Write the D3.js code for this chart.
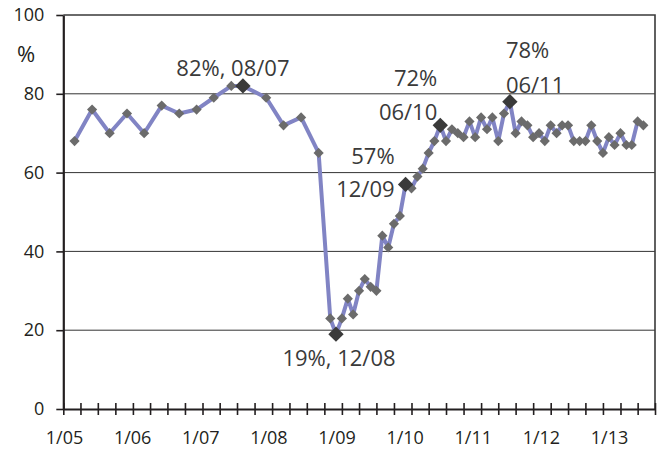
<!DOCTYPE html>
<html>
<head>
<meta charset="utf-8">
<script src="https://cdn.jsdelivr.net/npm/d3@7"></script>
<style>
  html, body { margin: 0; padding: 0; background: #fff; }
  svg { display: block; }
  text { font-family: "Open Sans", "Noto Sans", sans-serif; }
</style>
</head>
<body>
<svg id="chart" width="660" height="452"></svg>
<script>
// ---- data ----
const dates = [
  "2005-03","2005-06","2005-09","2005-12",
  "2006-03","2006-06","2006-09","2006-12",
  "2007-03","2007-06","2007-08","2007-12",
  "2008-03","2008-06","2008-09","2008-11","2008-12",
  "2009-01","2009-02","2009-03","2009-04","2009-05","2009-06","2009-07","2009-08","2009-09","2009-10","2009-11","2009-12",
  "2010-01","2010-02","2010-03","2010-04","2010-05","2010-06","2010-07","2010-08","2010-09","2010-10","2010-11","2010-12",
  "2011-01","2011-02","2011-03","2011-04","2011-05","2011-06","2011-07","2011-08","2011-09","2011-10","2011-11","2011-12",
  "2012-01","2012-02","2012-03","2012-04","2012-05","2012-06","2012-07","2012-08","2012-09","2012-10","2012-11","2012-12",
  "2013-01","2013-02","2013-03","2013-04","2013-05"
];
const values = [
  68, 76, 70, 75,
  70, 77, 75, 76,
  79, 82, 82, 79,
  72, 74, 65, 23, 19,
  23, 28, 24, 30, 33, 31, 30, 44, 41, 47, 49, 57,
  56, 59, 61, 65, 68, 72, 68, 71, 70, 69, 73, 69,
  74, 71, 74, 68, 75, 78, 70, 73, 72, 69, 70, 68,
  72, 70, 72, 72, 68, 68, 68, 72, 68, 65, 69, 67,
  70, 67, 67, 73, 72
];
const xTickLabels = ["1/05","1/06","1/07","1/08","1/09","1/10","1/11","1/12","1/13"];
const yTicks = [0, 20, 40, 60, 80, 100];
const highlightDates = ["2007-08","2008-12","2009-12","2010-06","2011-06"];
const highlightTexts = [
  ["82%, 08/07"],
  ["19%, 12/08"],
  ["57%", "12/09"],
  ["72%", "06/10"],
  ["78%", "06/11"]
];
const yUnit = "%";

// ---- layout ----
const svg = d3.select("#chart");
const parse = d3.timeParse("%Y-%m");
const data = dates.map((d, i) => ({ date: parse(d), key: d, value: values[i] }));

const x = d3.scaleTime()
  .domain([new Date(2005, 0, 1), new Date(2013, 6, 1)])
  .range([63.3, 655]);
const y = d3.scaleLinear().domain([0, 100]).range([409, 15]);
const xLab = d3.scalePoint().domain(xTickLabels).range([64, 609]);

const ink = "#231f20";

// gridlines
svg.append("g").selectAll("line")
  .data(yTicks.filter(v => v > 0 && v < 100))
  .join("line")
  .attr("x1", x.range()[0]).attr("x2", x.range()[1])
  .attr("y1", d => y(d)).attr("y2", d => y(d))
  .attr("stroke", "#333").attr("stroke-width", 1);

// frame top & right
svg.append("path")
  .attr("d", `M${x.range()[0]},${y(100)}H${x.range()[1]}V${y(0)}`)
  .attr("fill", "none").attr("stroke", "#3a3a3a").attr("stroke-width", 1.6);

// y axis
const yAxis = svg.append("g")
  .attr("transform", `translate(${x.range()[0]},0)`)
  .call(d3.axisLeft(y).tickValues(yTicks).tickSize(7).tickPadding(12).tickSizeOuter(0));
yAxis.select(".domain").attr("stroke", ink).attr("stroke-width", 2.2);
yAxis.selectAll(".tick line").attr("stroke", ink).attr("stroke-width", 1.6);
yAxis.selectAll(".tick text").attr("font-size", 18).attr("fill", ink)
  .style("font-family", '"Open Sans", sans-serif');

// x axis (quarterly ticks crossing the axis)
const xAxis = svg.append("g")
  .attr("transform", `translate(0,${y(0)})`)
  .call(d3.axisBottom(x).ticks(d3.timeMonth.every(3)).tickSize(6).tickSizeOuter(0).tickFormat(""));
xAxis.select(".domain").attr("stroke", ink).attr("stroke-width", 2.2);
xAxis.selectAll(".tick line").attr("y1", -6).attr("stroke", ink).attr("stroke-width", 1.6);

// x labels
const xLabAxis = svg.append("g")
  .attr("transform", `translate(0,${y(0)})`)
  .call(d3.axisBottom(xLab).tickSize(0).tickPadding(22));
xLabAxis.select(".domain").remove();
xLabAxis.selectAll(".tick text").attr("font-size", 18).attr("fill", ink)
  .style("font-family", '"Open Sans", sans-serif');

// unit label
svg.append("text")
  .attr("x", 26).attr("y", 62)
  .attr("text-anchor", "middle")
  .attr("font-size", 22).attr("fill", ink)
  .text(yUnit);

// line
const line = d3.line().x(d => x(d.date)).y(d => y(d.value));
svg.append("path")
  .datum(data)
  .attr("d", line)
  .attr("fill", "none")
  .attr("stroke", "#8184c4")
  .attr("stroke-width", 4)
  .attr("stroke-linejoin", "round");

// small markers
const diamond = (size) => d3.symbol().type(d3.symbolSquare).size(size)();
const isHi = d => highlightDates.includes(d.key);
svg.append("g").selectAll("path")
  .data(data.filter(d => !isHi(d)))
  .join("path")
  .attr("d", diamond(52))
  .attr("transform", d => `translate(${x(d.date)},${y(d.value)}) rotate(45)`)
  .attr("fill", "#6b6b6b");

// highlight markers
const hiData = highlightDates.map(k => data.find(d => d.key === k));
svg.append("g").selectAll("path")
  .data(hiData)
  .join("path")
  .attr("d", diamond(118))
  .attr("transform", d => `translate(${x(d.date)},${y(d.value)}) rotate(45)`)
  .attr("fill", "#3a3a3a");

// annotation layout: [dx, anchor, dy per line]
const annLayout = [
  { dx: -10, anchor: "middle", dy: [-10] },
  { dx: 3,   anchor: "middle", dy: [32] },
  { dx: -11, anchor: "end",    dy: [-20, 13] },
  { dx: -3,  anchor: "end",    dy: [-39, -5] },
  { dx: -4,  anchor: "start",  dy: [-44, -9] }
];
const ann = svg.append("g");
hiData.forEach((d, i) => {
  const L = annLayout[i];
  highlightTexts[i].forEach((t, j) => {
    ann.append("text")
      .attr("x", x(d.date) + L.dx)
      .attr("y", y(d.value) + L.dy[j])
      .attr("text-anchor", L.anchor)
      .attr("font-size", 22)
      .attr("fill", "#3a3a3a")
      .text(t);
  });
});
</script>
</body>
</html>
